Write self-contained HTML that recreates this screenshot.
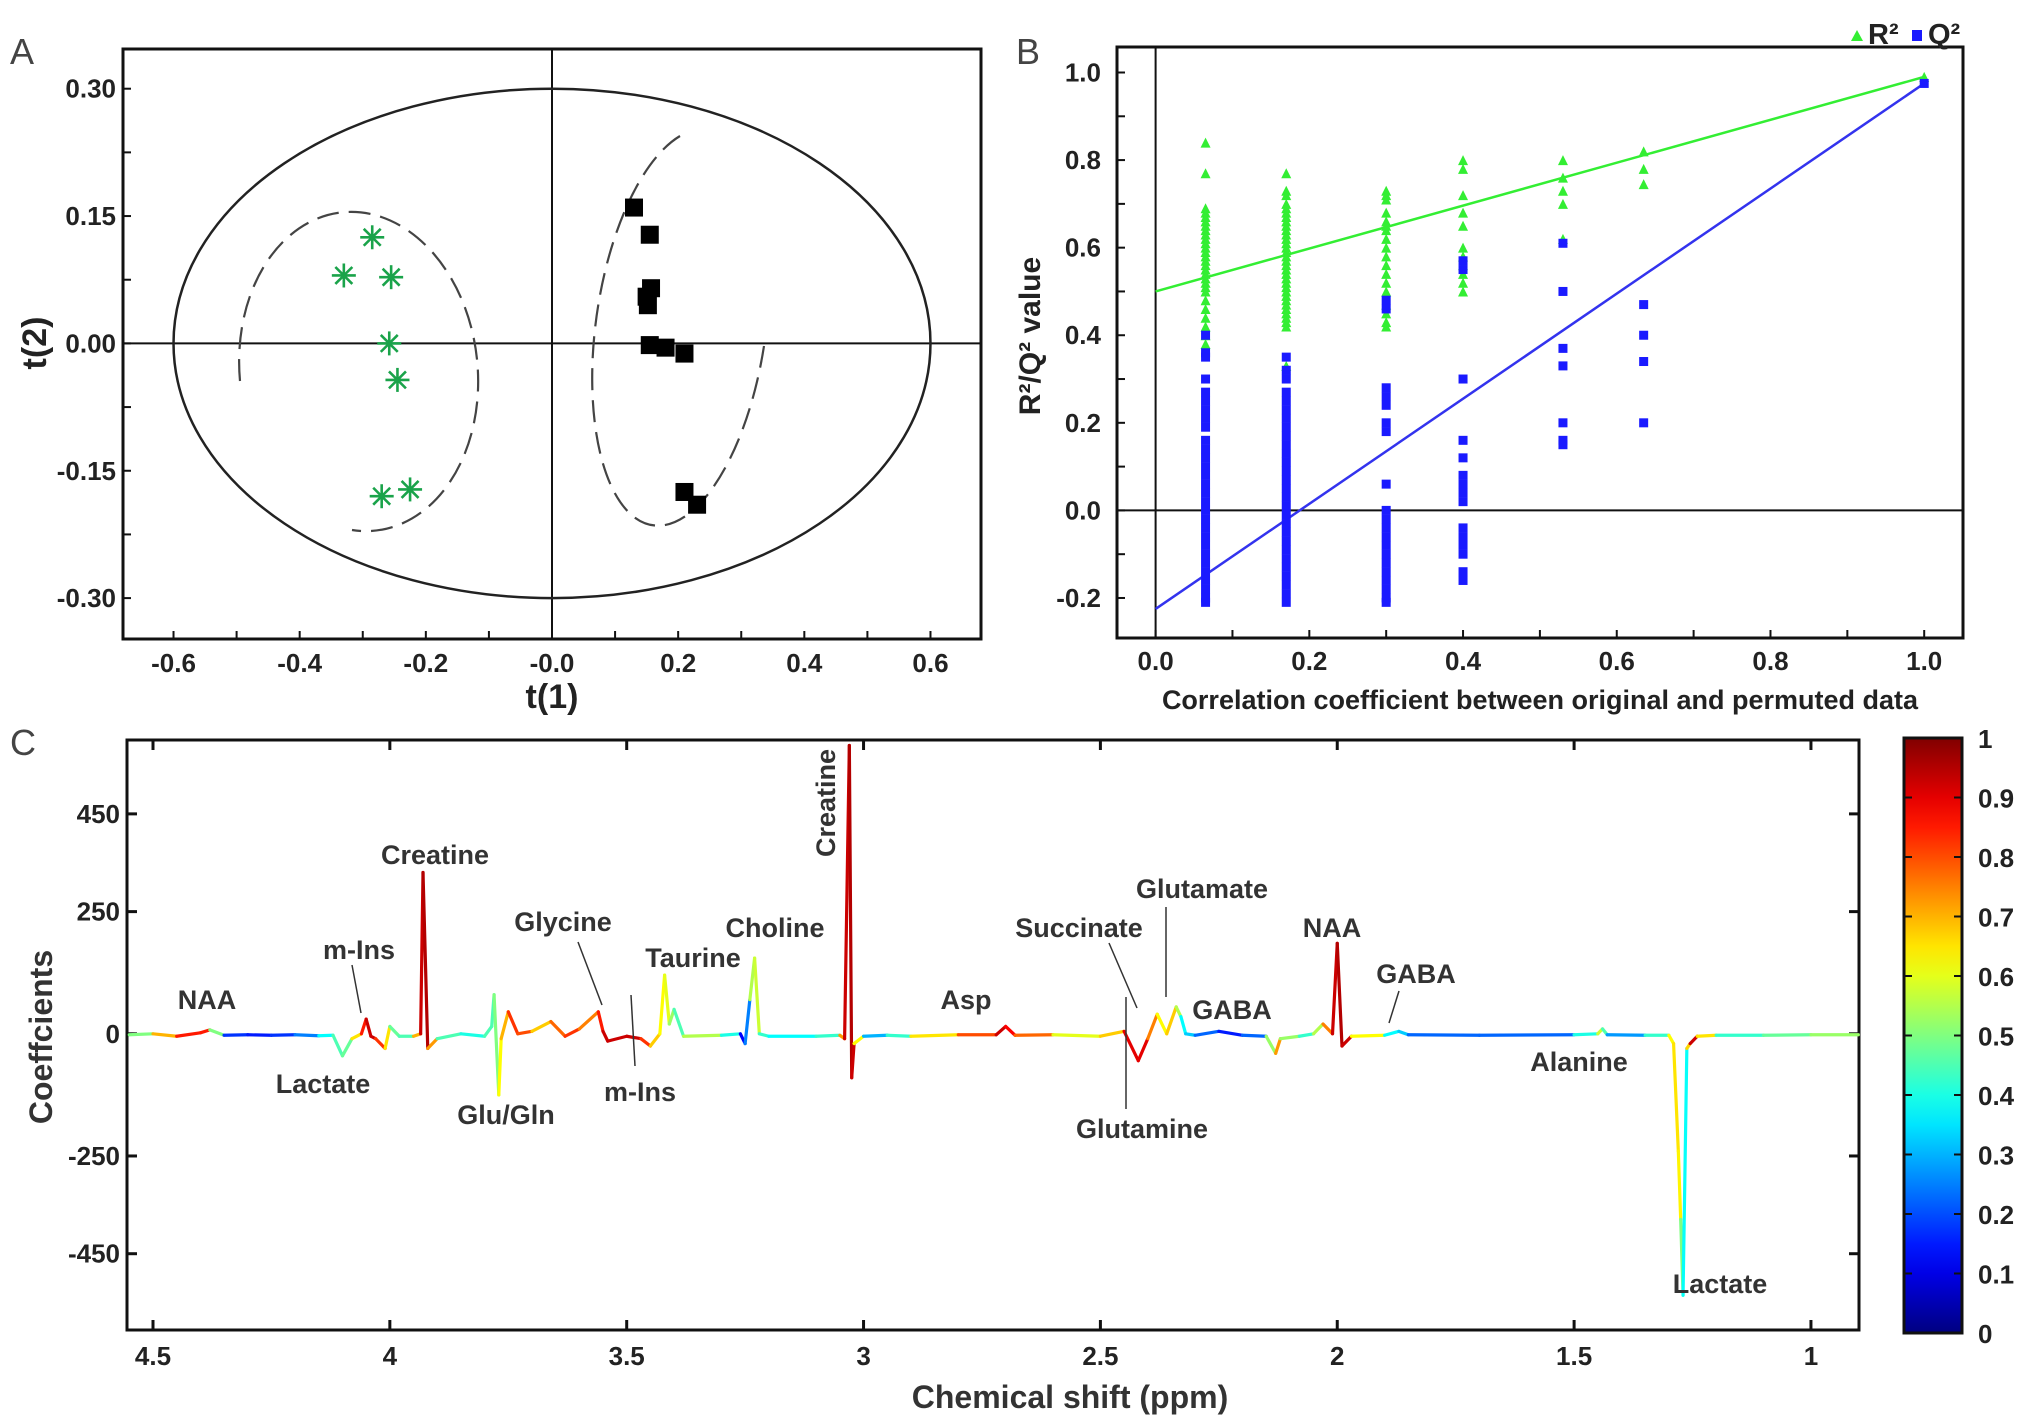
<!DOCTYPE html>
<html><head><meta charset="utf-8"><style>
html,body{margin:0;padding:0;background:#fff}
svg{display:block;font-family:"Liberation Sans",Arial,sans-serif}
.tk{font-size:26px;font-weight:bold;fill:#222}
.lb{font-size:27px;font-weight:bold;fill:#333}
</style></head><body>
<svg id="svg" width="2031" height="1428" viewBox="0 0 2031 1428">
<g id="pA"></g>
<g id="pB"></g>
<g id="pC"></g>
</svg>
<script>
// ---- Panel A data ----
const starX=[-0.285,-0.33,-0.255,-0.258,-0.245,-0.27,-0.225];
const starY=[0.125,0.08,0.078,0.0,-0.043,-0.18,-0.172];
const sqX=[0.13,0.155,0.157,0.15,0.152,0.155,0.18,0.21,0.21,0.23];
const sqY=[0.16,0.128,0.065,0.055,0.045,-0.002,-0.005,-0.012,-0.175,-0.19];
const aXTicks=[-0.6,-0.4,-0.2,0.0,0.2,0.4,0.6];
const aXTickLabels=["-0.6","-0.4","-0.2","-0.0","0.2","0.4","0.6"];
const aYTicks=[0.30,0.15,0.00,-0.15,-0.30];
const aYTickLabels=["0.30","0.15","0.00","-0.15","-0.30"];
// ---- Panel B data ----
const permX=[0.065,0.17,0.30,0.40,0.53,0.635,1.0];
const r2Vals=[
[0.84,0.77,0.69,0.68,0.67,0.66,0.65,0.64,0.63,0.62,0.61,0.6,0.59,0.58,0.57,0.56,0.55,0.54,0.53,0.52,0.51,0.5,0.48,0.46,0.44,0.42,0.4,0.38],
[0.77,0.73,0.72,0.7,0.69,0.68,0.67,0.66,0.65,0.64,0.63,0.62,0.61,0.6,0.59,0.58,0.57,0.56,0.55,0.54,0.53,0.52,0.51,0.5,0.49,0.48,0.47,0.46,0.45,0.44,0.43,0.42,0.33],
[0.73,0.72,0.71,0.68,0.66,0.65,0.64,0.62,0.6,0.58,0.56,0.54,0.52,0.5,0.47,0.45,0.43,0.42],
[0.8,0.78,0.72,0.68,0.65,0.6,0.58,0.56,0.54,0.52,0.5],
[0.8,0.76,0.73,0.7,0.62],
[0.82,0.78,0.745],
[0.99]];
const q2Vals=[
[0.4,0.36,0.35,0.3,0.27,0.25,0.23,0.21,0.19,0.16,0.14,0.12,0.1,0.08,0.06,0.04,0.02,0.0,-0.02,-0.04,-0.06,-0.08,-0.1,-0.12,-0.14,-0.16,-0.18,-0.2,-0.21],
[0.35,0.32,0.3,0.27,0.25,0.23,0.21,0.19,0.17,0.15,0.13,0.11,0.09,0.07,0.05,0.03,0.01,-0.01,-0.03,-0.05,-0.07,-0.09,-0.11,-0.13,-0.15,-0.17,-0.19,-0.21],
[0.48,0.46,0.28,0.26,0.24,0.2,0.18,0.06,0.0,-0.02,-0.04,-0.06,-0.08,-0.1,-0.12,-0.14,-0.16,-0.18,-0.2,-0.21],
[0.57,0.55,0.3,0.16,0.12,0.08,0.06,0.04,0.02,-0.04,-0.06,-0.08,-0.1,-0.14,-0.16],
[0.61,0.5,0.37,0.33,0.2,0.16,0.15],
[0.47,0.4,0.34,0.2],
[0.975]];
const r2Line=[0.50,0.99];
const q2Line=[-0.225,0.975];
const bXTicks=[0,0.2,0.4,0.6,0.8,1.0];
const bXTickLabels=["0.0","0.2","0.4","0.6","0.8","1.0"];
const bYTicks=[1.0,0.8,0.6,0.4,0.2,0.0,-0.2];
const bYTickLabels=["1.0","0.8","0.6","0.4","0.2","0.0","-0.2"];
// ---- Panel C data ----
const ppm=[4.55,4.5,4.45,4.4,4.38,4.35,4.3,4.25,4.2,4.15,4.12,4.1,4.08,4.06,4.05,4.04,4.03,4.01,4.0,3.98,3.95,3.935,3.93,3.92,3.9,3.85,3.8,3.785,3.78,3.77,3.765,3.75,3.73,3.7,3.66,3.63,3.6,3.56,3.55,3.54,3.5,3.47,3.45,3.43,3.42,3.41,3.40,3.38,3.3,3.26,3.25,3.24,3.23,3.22,3.2,3.1,3.05,3.04,3.03,3.025,3.02,3.0,2.95,2.9,2.8,2.72,2.7,2.68,2.6,2.5,2.45,2.42,2.40,2.38,2.36,2.34,2.33,2.32,2.3,2.25,2.2,2.15,2.13,2.12,2.08,2.05,2.03,2.01,2.0,1.99,1.97,1.9,1.87,1.85,1.7,1.5,1.45,1.44,1.43,1.35,1.3,1.29,1.28,1.275,1.27,1.262,1.255,1.24,1.2,1.1,1.0,0.9];
const coef=[-2,0,-5,2,8,-3,-2,-3,-2,-4,-3,-45,-10,0,30,-5,-10,-30,15,-5,-5,0,330,-30,-10,0,-5,15,80,-125,-10,45,0,5,25,-5,10,45,5,-15,-5,-10,-25,0,120,20,50,-5,-3,0,-20,70,155,0,-5,-5,-3,-10,590,-90,-20,-5,-3,-5,-2,-2,15,-3,-2,-5,5,-55,-10,40,0,55,35,0,-3,5,-3,-5,-40,-10,-5,0,20,0,185,-25,-5,-3,5,-2,-3,-2,0,10,-2,-3,-3,-20,-240,-380,-535,-30,-20,-5,-3,-3,-2,-2];
const corr=[0.4,0.6,0.8,0.9,0.8,0.2,0.15,0.15,0.2,0.3,0.45,0.45,0.5,0.8,0.9,0.95,0.9,0.75,0.55,0.4,0.5,0.9,0.95,0.95,0.5,0.4,0.4,0.5,0.4,0.6,0.65,0.75,0.9,0.7,0.65,0.9,0.75,0.75,0.95,0.9,0.95,0.9,0.75,0.6,0.65,0.55,0.5,0.4,0.7,0.1,0.15,0.35,0.75,0.4,0.45,0.3,0.55,0.9,0.95,0.95,0.9,0.35,0.25,0.6,0.7,0.9,0.95,0.8,0.75,0.45,0.9,0.9,0.9,0.6,0.65,0.7,0.4,0.35,0.3,0.15,0.15,0.3,0.75,0.7,0.35,0.5,0.6,0.9,0.95,0.95,0.9,0.35,0.4,0.25,0.2,0.25,0.55,0.6,0.3,0.25,0.6,0.65,0.65,0.62,0.38,0.38,0.95,0.9,0.4,0.45,0.5,0.55,0.6];
const cXTicks=[4.5,4,3.5,3,2.5,2,1.5,1];
const cXTickLabels=["4.5","4","3.5","3","2.5","2","1.5","1"];
const cYTicks=[450,250,0,-250,-450];
const cYTickLabels=["450","250","0","-250","-450"];
const cbTicks=[1,0.9,0.8,0.7,0.6,0.5,0.4,0.3,0.2,0.1,0];
const cbTickLabels=["1","0.9","0.8","0.7","0.6","0.5","0.4","0.3","0.2","0.1","0"];

const NS="http://www.w3.org/2000/svg";
function mk(parent,tag,attrs,text){const e=document.createElementNS(NS,tag);for(const k in attrs)e.setAttribute(k,attrs[k]);if(text!==undefined)e.textContent=text;parent.appendChild(e);return e;}

// ===== Panel A =====
const A=document.getElementById('pA');
const ax=v=>552+v*630.8, ay=v=>343.4-v*849;
let e;
e=mk(A,'rect',{x:123,y:49,width:858,height:590,fill:'none',stroke:'#111','stroke-width':3});

mk(A,'line',{x1:ax(0),y1:49,x2:ax(0),y2:639,stroke:'#111','stroke-width':2});
mk(A,'line',{x1:123,y1:ay(0),x2:981,y2:ay(0),stroke:'#111','stroke-width':2});
e=mk(A,'ellipse',{cx:ax(0),cy:ay(0),rx:0.6*630.8,ry:0.3*849,fill:'none',stroke:'#222','stroke-width':2.5});

e=mk(A,'path',{d:'M240,381 A119,160 -6 1 1 352,530',fill:'none',stroke:'#444','stroke-width':2.2,'stroke-dasharray':'22,10'});

e=mk(A,'path',{d:'M764,346 A85,200 8 1 1 680,136',fill:'none',stroke:'#444','stroke-width':2.2,'stroke-dasharray':'22,10'});

for(let v=-0.6;v<=0.61;v+=0.1){const x=ax(v);mk(A,'line',{x1:x,y1:639,x2:x,y2:631,stroke:'#111','stroke-width':2});}
for(let v=-0.3;v<=0.31;v+=0.075){const y=ay(v);mk(A,'line',{x1:123,y1:y,x2:131,y2:y,stroke:'#111','stroke-width':2});}
aXTicks.forEach((v,i)=>{e=mk(A,'text',{x:ax(v),y:672,'text-anchor':'middle',class:'tk'},aXTickLabels[i]);
});
aYTicks.forEach((v,i)=>{e=mk(A,'text',{x:116,y:ay(v)+9,'text-anchor':'end',class:'tk'},aYTickLabels[i]);
});
e=mk(A,'text',{x:552,y:708,'text-anchor':'middle','font-size':34,'font-weight':'bold',fill:'#222'},'t(1)');

e=mk(A,'text',{x:0,y:0,transform:'translate(46,343) rotate(-90)','text-anchor':'middle','font-size':34,'font-weight':'bold',fill:'#222'},'t(2)');

e=mk(A,'text',{x:10,y:64,'font-size':36,fill:'#444'},'A');

starX.forEach((v,i)=>{const g=mk(A,'g',{transform:`translate(${ax(v)},${ay(starY[i])})`});

for(let k=0;k<4;k++){const an=k*Math.PI/4;mk(g,'line',{x1:-12*Math.cos(an),y1:-12*Math.sin(an),x2:12*Math.cos(an),y2:12*Math.sin(an),stroke:'#1aa34a','stroke-width':2.6});}});
sqX.forEach((v,i)=>{e=mk(A,'rect',{x:ax(v)-9,y:ay(sqY[i])-9,width:18,height:18,fill:'#000'});
});

// ===== Panel B =====
const B=document.getElementById('pB');
const bx=v=>1155.6+v*768.6, by=v=>510.4-v*437.9;
e=mk(B,'rect',{x:1117,y:47,width:846,height:591,fill:'none',stroke:'#111','stroke-width':3});

mk(B,'line',{x1:bx(0),y1:47,x2:bx(0),y2:638,stroke:'#111','stroke-width':2});
mk(B,'line',{x1:1117,y1:by(0),x2:1963,y2:by(0),stroke:'#111','stroke-width':2});
for(let v=-0.1;v<=1.11;v+=0.1){const x=bx(v);if(x>1117&&x<1963)mk(B,'line',{x1:x,y1:638,x2:x,y2:630,stroke:'#111','stroke-width':2});}
for(let v=-0.2;v<=1.01;v+=0.1){const y=by(v);mk(B,'line',{x1:1117,y1:y,x2:1125,y2:y,stroke:'#111','stroke-width':2});}
bXTicks.forEach((v,i)=>{e=mk(B,'text',{x:bx(v),y:670,'text-anchor':'middle',class:'tk'},bXTickLabels[i]);
});
bYTicks.forEach((v,i)=>{e=mk(B,'text',{x:1101,y:by(v)+9,'text-anchor':'end',class:'tk'},bYTickLabels[i]);
});
e=mk(B,'line',{x1:bx(0),y1:by(r2Line[0]),x2:bx(1),y2:by(r2Line[1]),stroke:'#33ee33','stroke-width':2.5});

e=mk(B,'line',{x1:bx(0),y1:by(q2Line[0]),x2:bx(1),y2:by(q2Line[1]),stroke:'#3333ee','stroke-width':2.5});

permX.forEach((px,c)=>{
 r2Vals[c].forEach(v=>{const x=bx(px),y=by(v);e=mk(B,'polygon',{points:`${x-5},${y+5} ${x+5},${y+5} ${x},${y-5}`,fill:'#33ee33'});
 });
 q2Vals[c].forEach(v=>{const x=bx(px),y=by(v);e=mk(B,'rect',{x:x-4.5,y:y-4.5,width:9,height:9,fill:'#1a1aff'});
 });
});
const lg=mk(B,'g',{});
mk(lg,'polygon',{points:'1851,41 1863,41 1857,30',fill:'#33ee33'});
e=mk(lg,'text',{x:1868,y:44,'font-size':29,'font-weight':'bold',fill:'#222'},'R²');
mk(lg,'rect',{x:1912,y:30,width:10,height:11,fill:'#1a1aff'});
e=mk(lg,'text',{x:1928,y:44,'font-size':29,'font-weight':'bold',fill:'#222'},'Q²');
e=mk(B,'text',{x:1540,y:709,'text-anchor':'middle','font-size':27,'font-weight':'bold',fill:'#222'},'Correlation coefficient between original and permuted data');

e=mk(B,'text',{x:0,y:0,transform:'translate(1040,336) rotate(-90)','text-anchor':'middle','font-size':30,'font-weight':'bold',fill:'#222'},'R²/Q² value');

e=mk(B,'text',{x:1016,y:64,'font-size':36,fill:'#444'},'B');


// ===== Panel C =====
const C=document.getElementById('pC');
const cx=v=>153+(4.5-v)*473.7, cy=v=>1033.8-v*0.4887;
function jet(t){t=Math.max(0,Math.min(1,t));const f=x=>Math.round(255*Math.max(0,Math.min(1,1.5-Math.abs(4*t-x))));return `rgb(${f(3)},${f(2)},${f(1)})`;}
e=mk(C,'rect',{x:127,y:740,width:1732,height:590,fill:'none',stroke:'#111','stroke-width':3});

cXTicks.forEach((v,i)=>{const x=cx(v);mk(C,'line',{x1:x,y1:1330,x2:x,y2:1320,stroke:'#111','stroke-width':3});mk(C,'line',{x1:x,y1:740,x2:x,y2:750,stroke:'#111','stroke-width':3});
e=mk(C,'text',{x:x,y:1365,'text-anchor':'middle',class:'tk'},cXTickLabels[i]);});
cYTicks.forEach((v,i)=>{const y=cy(v);mk(C,'line',{x1:127,y1:y,x2:137,y2:y,stroke:'#111','stroke-width':3});mk(C,'line',{x1:1859,y1:y,x2:1849,y2:y,stroke:'#111','stroke-width':3});
e=mk(C,'text',{x:120,y:y+9,'text-anchor':'end',class:'tk'},cYTickLabels[i]);});
const sp=mk(C,'g',{});
for(let i=0;i<ppm.length-1;i++){e=mk(sp,'line',{x1:cx(ppm[i]),y1:cy(coef[i]),x2:cx(ppm[i+1]),y2:cy(coef[i+1]),stroke:jet((corr[i]+corr[i+1])/2),'stroke-width':3.2,'stroke-linecap':'round'});
}
const labs=[["NAA",207,1009],["Creatine",435,864],["m-Ins",359,959],["Glycine",563,931],["Taurine",693,967],["Choline",775,937],["Asp",966,1009],["Succinate",1079,937],["Glutamate",1202,898],["GABA",1232,1019],["NAA",1332,937],["GABA",1416,983],["Lactate",323,1093],["Glu/Gln",506,1124],["m-Ins",640,1101],["Glutamine",1142,1138],["Alanine",1579,1071],["Lactate",1720,1293]];
labs.forEach(l=>{e=mk(C,'text',{x:l[1],y:l[2],'text-anchor':'middle',class:'lb'},l[0]);});
e=mk(C,'text',{x:0,y:0,transform:'translate(835,803) rotate(-90)','text-anchor':'middle',class:'lb','font-size':29},'Creatine');

[[352,965,361,1013],[578,942,602,1005],[631,995,635,1066],[1109,943,1137,1008],[1166,907,1166,997],[1126,997,1126,1109],[1399,991,1389,1023]].forEach(p=>{
e=mk(C,'line',{x1:p[0],y1:p[1],x2:p[2],y2:p[3],stroke:'#333','stroke-width':1.5});});
const defs=mk(document.getElementById('svg'),'defs',{});
const gr=mk(defs,'linearGradient',{id:'jetg',x1:0,y1:1,x2:0,y2:0});
for(let k=0;k<=20;k++)mk(gr,'stop',{offset:k/20,'stop-color':jet(k/20)});
const cb0=738,cb1=1333;
e=mk(C,'rect',{x:1904,y:cb0,width:58,height:cb1-cb0,fill:'url(#jetg)',stroke:'#111','stroke-width':3});

cbTicks.forEach((v,i)=>{const y=cb1-v*(cb1-cb0);mk(C,'line',{x1:1962,y1:y,x2:1954,y2:y,stroke:'#111','stroke-width':2});mk(C,'line',{x1:1904,y1:y,x2:1912,y2:y,stroke:'#111','stroke-width':2});
e=mk(C,'text',{x:1978,y:y+10,class:'tk'},cbTickLabels[i]);});
e=mk(C,'text',{x:1070,y:1408,'text-anchor':'middle','font-size':32,'font-weight':'bold',fill:'#333'},'Chemical shift (ppm)');

e=mk(C,'text',{x:0,y:0,transform:'translate(52,1037) rotate(-90)','text-anchor':'middle','font-size':32,'font-weight':'bold',fill:'#333'},'Coeffcients');

e=mk(C,'text',{x:10,y:755,'font-size':36,fill:'#444'},'C');

</script>
</body></html>
